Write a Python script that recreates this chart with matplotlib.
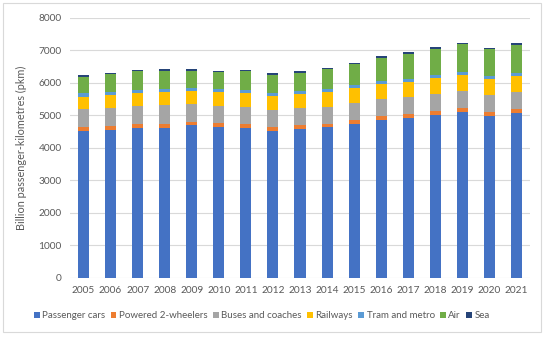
import matplotlib
matplotlib.use("Agg")
import matplotlib.pyplot as plt
from matplotlib.patches import Rectangle
import numpy as np

years = ["2005", "2006", "2007", "2008", "2009", "2010", "2011", "2012", "2013",
         "2014", "2015", "2016", "2017", "2018", "2019", "2020", "2021"]
passenger_cars = [4510, 4551, 4612, 4612, 4684, 4633, 4602, 4510, 4561,
                  4622, 4715, 4838, 4909, 5001, 5094, 4981, 5073]
powered_2_wheelers = [123, 123, 113, 123, 113, 123, 123, 113, 123,
                      113, 133, 123, 123, 123, 123, 123, 123]
buses_and_coaches = [553, 543, 553, 564, 553, 523, 523, 533, 523,
                     523, 523, 533, 512, 523, 523, 523, 512]
railways = [379, 400, 400, 410, 400, 420, 430, 430, 441,
            451, 451, 461, 471, 482, 492, 482, 482]
tram_and_metro = [102, 92, 92, 92, 92, 92, 92, 102, 92,
                  92, 92, 92, 102, 102, 102, 92, 102]
air = [512, 543, 574, 564, 523, 543, 584, 553, 564,
       605, 646, 717, 768, 810, 851, 820, 871]
sea = [51, 41, 41, 41, 41, 31, 31, 41, 41,
       41, 41, 41, 41, 41, 41, 41, 41]

series_names = ["Passenger cars", "Powered 2-wheelers", "Buses and coaches",
                "Railways", "Tram and metro", "Air", "Sea"]
series = [passenger_cars, powered_2_wheelers, buses_and_coaches, railways,
          tram_and_metro, air, sea]
colors = ["#4472C4", "#ED7D31", "#A5A5A5", "#FFC000", "#5B9BD5", "#70AD47", "#264478"]

plt.rcParams['font.family'] = ['Lato', 'DejaVu Sans']

fig = plt.figure(figsize=(5.5, 3.39), dpi=100)
ax = fig.add_axes([70/550, (339-277.7)/339, 460/550, 260.2/339])

x = np.arange(len(years))
bottom = np.zeros(len(years))
for name, vals, c in zip(series_names, series, colors):
    v = np.array(vals, dtype=float)
    ax.bar(x, v, bottom=bottom, width=0.41, color=c, label=name, zorder=3)
    bottom += v

ax.set_xlim(-0.5, 16.5)
ax.set_ylim(0, 8000)
ax.set_yticks(range(0, 8001, 1000))
ax.set_xticks(x)
ax.set_xticklabels(years)
ax.grid(axis='y', color='#D9D9D9', linewidth=0.8, zorder=0)
for s in ax.spines.values():
    s.set_visible(False)
ax.tick_params(axis='both', length=0, labelsize=7.3, colors='#595959', pad=6)
ax.tick_params(axis='x', pad=6)
ax.set_ylabel("Billion passenger-kilometres (pkm)", fontsize=7.8, color='#595959', labelpad=8)

leg = fig.legend(loc='center', bbox_to_anchor=(262/550, (339-316)/339), ncol=7,
                 frameon=False, fontsize=7.0, handlelength=0.55, handleheight=0.55,
                 columnspacing=0.55, handletextpad=0.3, borderaxespad=0)
for t in leg.get_texts():
    t.set_color('#595959')

fig.patches.append(Rectangle((3/550, (339-332)/339), 538/550, 329/339,
                             transform=fig.transFigure, fill=False,
                             edgecolor='#D9D9D9', linewidth=0.8))

fig.savefig("out.png", dpi=100)
